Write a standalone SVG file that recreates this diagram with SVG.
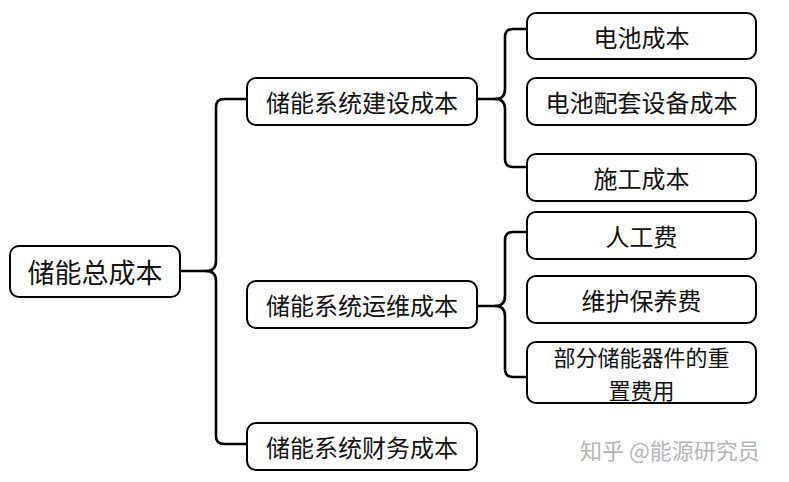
<svg xmlns="http://www.w3.org/2000/svg" width="789" height="482" viewBox="0 0 789 482">
<style>
.box{fill:#fff;stroke:#000;stroke-width:2;}
.t{font-family:"Noto Sans CJK SC","Noto Sans",sans-serif;font-size:24px;fill:#111;text-anchor:middle;dominant-baseline:central;}
.c{fill:none;stroke:#000;stroke-width:2.6;stroke-linecap:round;stroke-linejoin:round;}
.wm{font-family:"Noto Sans CJK SC","Noto Sans",sans-serif;font-size:22px;fill:#b4b4b4;}
</style>
<rect width="789" height="482" fill="#fff"/>
<g id="connectors">
<path class="c" d="M180,271 H206 Q216,271 216,261 V107 Q216,99 224,99 H247"/>
<path class="c" d="M206,271 Q216,271 216,281 V436 Q216,444 224,444 H247"/>
<path class="c" d="M477,99 H495 Q505,99 505,89 V37 Q505,29 513,29 H527"/>
<path class="c" d="M495,99 Q505,99 505,109 V159 Q505,167 513,167 H527"/>
<path class="c" d="M477,306 H495 Q505,306 505,296 V240 Q505,232 513,232 H527"/>
<path class="c" d="M495,306 Q505,306 505,316 V369 Q505,377 513,377 H527"/>
</g>
<g id="root">
<rect class="box" x="10" y="246" width="170" height="51" rx="9"/>
<text class="t" x="95" y="271.5" style="font-size:27px">储能总成本</text>
</g>
<g id="build">
<rect class="box" x="247" y="78" width="230" height="47" rx="9"/>
<text class="t" x="362" y="101.5">储能系统建设成本</text>
</g>
<g id="om">
<rect class="box" x="247" y="281" width="230" height="47" rx="9"/>
<text class="t" x="362" y="304.5">储能系统运维成本</text>
</g>
<g id="finance">
<rect class="box" x="247" y="423" width="230" height="47" rx="9"/>
<text class="t" x="362" y="446.5">储能系统财务成本</text>
</g>
<g id="battery">
<rect class="box" x="527" y="13" width="229" height="46" rx="9"/>
<text class="t" x="641.5" y="36">电池成本</text>
</g>
<g id="battery-equip">
<rect class="box" x="527" y="78" width="229" height="47" rx="9"/>
<text class="t" x="641.5" y="101.5">电池配套设备成本</text>
</g>
<g id="construction">
<rect class="box" x="527" y="154" width="229" height="47" rx="9"/>
<text class="t" x="641.5" y="177.5">施工成本</text>
</g>
<g id="labor">
<rect class="box" x="527" y="212" width="229" height="47" rx="9"/>
<text class="t" x="641.5" y="235.5">人工费</text>
</g>
<g id="maintenance">
<rect class="box" x="527" y="276" width="229" height="47" rx="9"/>
<text class="t" x="641.5" y="299.5">维护保养费</text>
</g>
<g id="replacement">
<rect class="box" x="527" y="342" width="229" height="61" rx="9"/>
<text class="t" x="641.5" y="356" style="font-size:22px"><tspan x="641.5" y="356">部分储能器件的重</tspan><tspan x="641.5" y="389">置费用</tspan></text>
</g>
<text class="wm" x="580" y="459">知乎 @能源研究员</text>
</svg>
